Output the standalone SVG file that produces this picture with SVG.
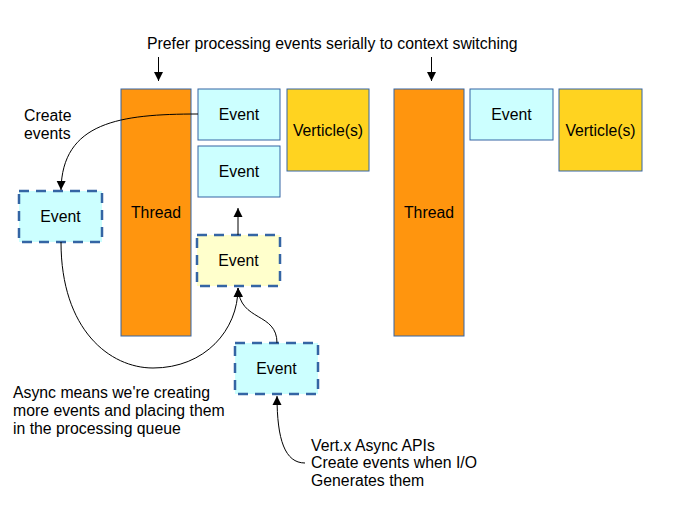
<svg xmlns="http://www.w3.org/2000/svg" width="700" height="525" viewBox="0 0 700 525">
<defs>
<style>
text{font-family:"Liberation Sans",Arial,sans-serif;font-size:15.8px;fill:#000}
.c{text-anchor:middle;dominant-baseline:central}
.thread{fill:#ff950e;stroke:#3465a4;stroke-width:1}
.ev{fill:#ccffff;stroke:#3465a4;stroke-width:1}
.vert{fill:#ffd320;stroke:#3465a4;stroke-width:1}
.dash{fill:#ccffff;stroke:#3465a4;stroke-width:2.5;stroke-dasharray:10,7}
.dashy{fill:#ffffcc;stroke:#3465a4;stroke-width:2.5;stroke-dasharray:10,7}
.ln{fill:none;stroke:#000;stroke-width:1;marker-end:url(#ah)}
</style>
<marker id="ah" viewBox="0 0 10 10" refX="10" refY="5" markerWidth="9" markerHeight="11" markerUnits="userSpaceOnUse" orient="auto">
<path d="M0,0 L10,5 L0,10 z" fill="#000"/>
</marker>
</defs>
<rect width="700" height="525" fill="#fff"/>
<g id="thread1"><rect class="thread" x="121" y="89" width="70" height="247"/><text class="c" x="156" y="212">Thread</text></g>
<g id="event1"><rect class="ev" x="198" y="89" width="82" height="51"/><text class="c" x="239" y="114">Event</text></g>
<g id="event2"><rect class="ev" x="198" y="146" width="82" height="51"/><text class="c" x="239" y="171">Event</text></g>
<g id="verticle1"><rect class="vert" x="287" y="89" width="82" height="82"/><text class="c" x="328" y="130">Verticle(s)</text></g>
<g id="thread2"><rect class="thread" x="394" y="89" width="70" height="247"/><text class="c" x="429" y="212">Thread</text></g>
<g id="event3"><rect class="ev" x="470" y="89" width="83" height="51"/><text class="c" x="511.5" y="114">Event</text></g>
<g id="verticle2"><rect class="vert" x="559" y="89" width="83" height="82"/><text class="c" x="600.5" y="130">Verticle(s)</text></g>
<g id="eventLeft"><rect class="dash" x="19" y="191" width="83" height="51"/><text class="c" x="60.5" y="216">Event</text></g>
<g id="eventQueued"><rect class="dashy" x="197" y="235" width="83" height="51"/><text class="c" x="238.5" y="260">Event</text></g>
<g id="eventIO"><rect class="dash" x="235" y="343" width="83" height="51"/><text class="c" x="276.5" y="368">Event</text></g>
<g id="connectors">
<path class="ln" d="M158.5,57 L158.5,81"/>
<path class="ln" d="M431.5,57 L431.5,81"/>
<path class="ln" d="M198,114 C120,114 62,122 61,190"/>
<path class="ln" d="M61,242 C61,330 110,368 153,368 C205,368 238,330 238,288"/>
<path class="ln" d="M277,343 C277,312 240,322 238,288"/>
<path class="ln" d="M238,235 L238,208"/>
<path class="ln" d="M305,463 C285,463 277,440 277,396"/>
</g>
<g id="labels">
<text x="147" y="49">Prefer processing events serially to context switching</text>
<text x="24" y="120.5">Create</text>
<text x="24" y="138.5">events</text>
<text x="13" y="398">Async means we're creating</text>
<text x="13" y="416">more events and placing them</text>
<text x="13" y="433.5">in the processing queue</text>
<text x="311" y="450.5">Vert.x Async APIs</text>
<text x="311" y="468">Create events when I/O</text>
<text x="311" y="485.5">Generates them</text>
</g>
</svg>
